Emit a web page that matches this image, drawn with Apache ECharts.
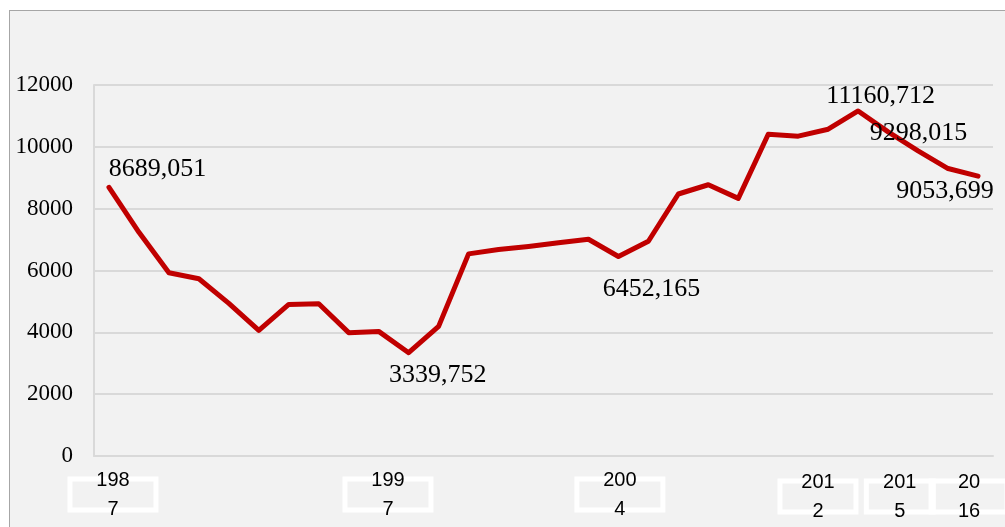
<!DOCTYPE html>
<html>
<head>
<meta charset="utf-8">
<script src="https://cdn.jsdelivr.net/npm/echarts@6/dist/echarts.min.js"></script>
<style>
html,body{margin:0;padding:0;background:#fff;overflow:hidden}
#frame{position:absolute;left:9px;top:10px;width:1100px;height:600px;background:#f2f2f2;border-left:1px solid #a6a6a6;border-top:1px solid #a6a6a6}
#c{position:absolute;left:0;top:0;width:1005px;height:527px}
</style>
</head>
<body>
<div id="frame"></div>
<div id="c"></div>
<script>
// ---- data ----
const years = ['1987','1988','1989','1990','1991','1992','1993','1994','1995','1996',
               '1997','1998','1999','2000','2001','2002','2003','2004','2005','2006',
               '2007','2008','2009','2010','2011','2012','2013','2014','2015','2016'];
const values = [8689.051, 7236, 5925, 5732, 4935, 4065, 4903, 4925, 3990, 4030,
                3339.752, 4194, 6538, 6678, 6777, 6896, 7010, 6452.165, 6946, 8474,
                8774, 8333, 10409, 10345, 10570, 11160.712, 10484, 9871, 9298.015, 9053.699];
const labelledYears = ['1987','1997','2004','2012','2015','2016'];
const xTickLabels = ['198\n7','199\n7','200\n4','201\n2','201\n5','20\n16'];
const yMin = 0, yMax = 12000, yStep = 2000;

// ---- layout (positions of the boxed tick labels, in category units) ----
const xTickAt = [0.634, 9.81, 17.55, 24.16, 26.89, 29.2];
// tick-label boxes grouped so that touching boxes live on separate axes
const boxGroups = [
  { idx: [0, 1, 2], width: 86, margin: 23 },
  { idx: [3, 5], width: 76, margin: 25 },
  { idx: [4], width: 67, margin: 25 }
];
const labelOffsets = {
  '1987': [48.5, -18.6],
  '1997': [29, 22],
  '2004': [33, 32.5],
  '2012': [22.5, -15],
  '2015': [-29.5, -35],
  '2016': [-33, 15.5]
};

const seriesData = values.map((v, i) => {
  const y = years[i];
  if (labelledYears.indexOf(y) >= 0) {
    return { value: v, label: { show: true, offset: labelOffsets[y] } };
  }
  return v;
});

function tickText(val) {
  for (let i = 0; i < xTickAt.length; i++) {
    if (Math.abs(xTickAt[i] - val) < 1e-6) return xTickLabels[i];
  }
  return '';
}

const labelAxes = boxGroups.map(g => ({
  type: 'value',
  min: 0,
  max: 30,
  position: 'bottom',
  axisLine: { show: false },
  axisTick: { show: false },
  splitLine: { show: false },
  axisLabel: {
    customValues: g.idx.map(i => xTickAt[i]),
    hideOverlap: false,
    showMinLabel: true,
    showMaxLabel: true,
    formatter: tickText,
    fontFamily: 'Liberation Sans',
    fontSize: 20,
    color: '#000',
    lineHeight: 29,
    width: g.width,
    align: 'center',
    verticalAlign: 'top',
    padding: [-13.5, 0, -13.5, 0],
    borderColor: '#ffffff',
    borderWidth: 5,
    margin: g.margin
  }
}));

const chart = echarts.init(document.getElementById('c'), null, { renderer: 'canvas' });
chart.setOption({
  backgroundColor: 'transparent',
  animation: false,
  grid: { left: 94, right: 12, top: 85, bottom: 71, outerBoundsMode: 'none', containLabel: false },
  xAxis: [
    {
      type: 'category',
      data: years,
      boundaryGap: true,
      axisLine: { show: true, lineStyle: { color: '#d9d9d9', width: 2 } },
      axisTick: { show: false },
      axisLabel: { show: false },
      splitLine: { show: false }
    }
  ].concat(labelAxes),
  yAxis: {
    type: 'value',
    min: yMin,
    max: yMax,
    interval: yStep,
    axisLine: { show: true, lineStyle: { color: '#d9d9d9', width: 2 } },
    axisTick: { show: false },
    splitLine: { show: true, lineStyle: { color: '#d9d9d9', width: 2 } },
    axisLabel: {
      fontFamily: 'Liberation Serif',
      fontSize: 23,
      color: '#000',
      margin: 21,
      formatter: function (v) { return String(v); }
    }
  },
  series: [{
    type: 'line',
    xAxisIndex: 0,
    data: seriesData,
    symbol: 'circle',
    symbolSize: 1,
    showAllSymbol: true,
    itemStyle: { color: '#c00000' },
    lineStyle: { color: '#c00000', width: 5, cap: 'round', join: 'round' },
    label: {
      show: false,
      position: 'inside',
      align: 'center',
      verticalAlign: 'middle',
      fontFamily: 'Liberation Serif',
      fontSize: 26,
      color: '#000',
      formatter: function (p) { return p.value.toFixed(3).replace('.', ','); }
    },
    emphasis: { disabled: true }
  }]
});
</script>
</body>
</html>
